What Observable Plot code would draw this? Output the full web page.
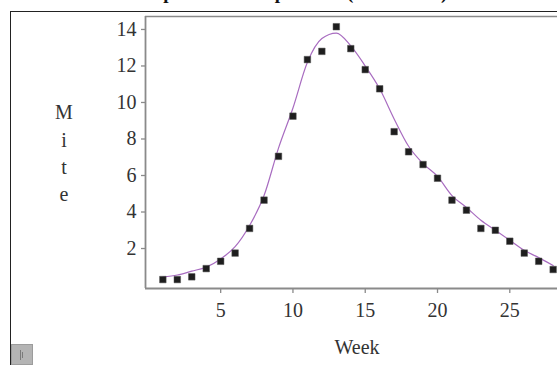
<!DOCTYPE html>
<html>
<head>
<meta charset="utf-8">
<script src="https://cdn.jsdelivr.net/npm/d3@7"></script>
<script src="https://cdn.jsdelivr.net/npm/@observablehq/plot@0.6"></script>
<style>
  html, body { margin: 0; padding: 0; background: #fff; }
  #wrap { position: relative; width: 557px; height: 365px; overflow: hidden; background: #fff; }
  #wrap svg { position: absolute; left: 0; top: 0; }
  .frame { position: absolute; left: 10px; top: 11px; width: 700px; height: 500px;
           border-left: 1.6px solid #222; border-top: 1.6px solid #222; }
  .title { position: absolute; left: 0; width: 600px; top: -18px; text-align: center;
           font: bold 19px "Liberation Serif", serif; color: #111; white-space: nowrap; }
  .lbl { position: absolute; font: 20px "Liberation Serif", serif; color: #333; line-height: 20px; }
  .btn { position: absolute; left: 11px; top: 344px; width: 22px; height: 21px;
         background: #b4b4b4; border: 1px solid #9c9c9c; box-sizing: border-box; }
  .btn i { position: absolute; top: 5px; width: 1px; height: 10px; background: #7a7a7a; }
</style>
</head>
<body>
<div id="wrap">
  <div class="title">Spider Mite Population (Mites/Leaf)</div>
  <div class="frame"></div>
</div>
<script>
// ---- data ----
const weeks    = [1,2,3,4,5,6,7,8,9,10,11,12,13,14,15,16,17,18,19,20,21,22,23,24,25,26,27,28];
const observed = [0.3,0.3,0.45,0.9,1.3,1.75,3.1,4.65,7.05,9.25,12.35,12.8,14.15,12.95,11.8,10.75,8.4,7.3,6.6,5.85,4.65,4.1,3.1,3.0,2.4,1.75,1.3,0.85];
const fitted   = [0.43,0.55,0.76,0.98,1.43,2.1,3.26,4.9,7.5,9.7,12.2,13.5,13.8,13.1,12.0,10.75,9.1,7.6,6.65,5.95,4.9,4.25,3.55,3.0,2.45,1.9,1.5,1.07];
const xTicks   = [5,10,15,20,25];
const yTicks   = [2,4,6,8,10,12,14];
const xDomain  = [-0.2, 28.3];
const yDomain  = [-0.19, 14.71];
const xLabel   = "Week";
const yLabel   = "Mite";

const obs = weeks.map((w, i) => ({week: w, value: observed[i]}));
const fit = weeks.map((w, i) => ({week: w, value: fitted[i]}));

const axisGray = "#8a8a8a";
const chart = Plot.plot({
  width: 557,
  height: 365,
  marginTop: 16,
  marginLeft: 145,
  marginRight: 0,
  marginBottom: 77,
  style: {fontFamily: "Liberation Serif, serif", fontSize: "20px", background: "transparent", overflow: "visible"},
  x: {domain: xDomain},
  y: {domain: yDomain},
  marks: [
    Plot.ruleY([yDomain[1]], {stroke: axisGray, strokeWidth: 1.5}),
    Plot.ruleX([xDomain[0]], {stroke: axisGray, strokeWidth: 1.8}),
    Plot.ruleY([yDomain[0]], {stroke: axisGray, strokeWidth: 1.8}),
    Plot.axisY(yTicks, {tickSize: 4, tickPadding: 5, stroke: axisGray, fill: "#333", label: null, strokeWidth: 1.3}),
    Plot.axisX(xTicks, {tickSize: 5, tickPadding: 9, stroke: axisGray, fill: "#333", label: null, strokeWidth: 1.3}),
    Plot.line(fit, {x: "week", y: "value", stroke: "#a86cc0", strokeWidth: 1.2, curve: "monotone-x"}),
    Plot.dot(obs, {x: "week", y: "value", symbol: "square", r: 3.7, fill: "#1e1e1e", stroke: "#555", strokeWidth: 0.5})
  ]
});
const wrap = document.getElementById("wrap");
wrap.insertBefore(chart, wrap.querySelector(".frame"));

// axis titles
const wk = document.createElement("div");
wk.className = "lbl";
wk.textContent = xLabel;
wk.style.left = "357px"; wk.style.top = "337px"; wk.style.transform = "translateX(-50%)";
wrap.appendChild(wk);

const yTops = [102, 130, 157, 184];
yLabel.split("").forEach((ch, i) => {
  const s = document.createElement("div");
  s.className = "lbl";
  s.textContent = ch;
  s.style.left = "64px"; s.style.top = yTops[i] + "px"; s.style.transform = "translateX(-50%)";
  wrap.appendChild(s);
});

const btn = document.createElement("div");
btn.className = "btn";
btn.innerHTML = '<i style="left:8px"></i><i style="left:10px;height:6px;top:7px"></i>';
wrap.appendChild(btn);
</script>
</body>
</html>
